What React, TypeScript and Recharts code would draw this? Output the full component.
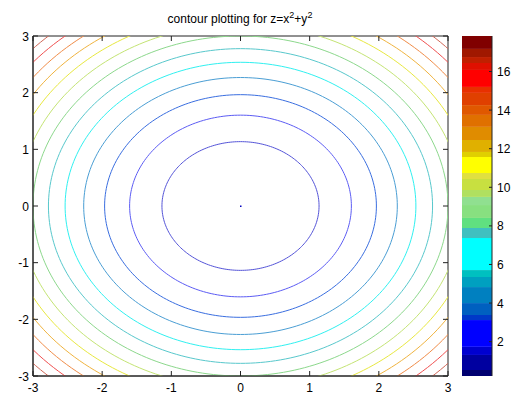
import { ComposedChart, Line, Scatter, XAxis, YAxis, ReferenceArea } from "recharts"

// contour plot of z = x^2 + y^2, levels and colours
const xTicks = [-3, -2, -1, 0, 1, 2, 3]
const yTicks = [-3, -2, -1, 0, 1, 2, 3]
const contourLevels = [1.29, 2.57, 3.86, 5.14, 6.43, 7.71, 9.0, 10.29, 11.57, 12.86, 14.14, 15.43, 16.71]
const contourColors = [
  "#5454d8", "#5c5cf4", "#3a6ee0", "#4a9ed4", "#30f0f0", "#58c8cc", "#8cd88c",
  "#c4e474", "#e8e840", "#f0b440", "#f08c48", "#f05050", "#d06858",
]
const centerPoint = [{ x: 0, y: 0 }]

// colorbar
const colorbarTicks = [2, 4, 6, 8, 10, 12, 14, 16]
const bandEdges = [
  0.22, 0.53, 1.31, 1.73, 3.12, 3.38, 4.0, 4.83, 5.35, 5.71, 7.37, 7.89, 8.41, 9.08, 9.5, 9.86,
  10.43, 10.74, 11.57, 11.83, 12.45, 13.13, 13.75, 14.26, 14.89, 15.2, 16.08, 16.44, 16.75, 17.17, 17.84,
]
const bandColors = [
  "#000070", "#0000a0", "#0000d0", "#0000ff", "#0038c8", "#0060c0", "#0080c0", "#00a0c0", "#00c0c0",
  "#00ffff", "#40c0c0", "#60e080", "#88e080", "#90e090", "#b0e060", "#c8e040", "#e0e040", "#ffff00",
  "#e0d000", "#e0b000", "#e08c00", "#e07000", "#e05800", "#e04000", "#e83000", "#ff0000", "#e01000",
  "#c02000", "#a01800", "#800000",
]
const barAnchor = [{ x: 0.5, v: 9 }]

const font = "'Liberation Sans', Arial, sans-serif"
const axisColor = "#222"
// plot box of the main axes, in pixels
const PLOT_TOP = 36
const PLOT_LEFT = 33
const PLOT_RIGHT = 448

// points along the level curve x^2 + y^2 = level
function levelCurve(level: number) {
  const r = Math.sqrt(level)
  const pts = []
  for (let i = 0; i <= 240; i++) {
    const t = (i / 240) * Math.PI * 2
    pts.push({ x: r * Math.cos(t), y: r * Math.sin(t) })
  }
  return pts
}

// bottom tick also draws the matching inward tick on the top edge
const BottomTick = ({ x, y, payload }: any) => (
  <g>
    <line x1={x} x2={x} y1={y} y2={y - 5} stroke={axisColor} />
    <line x1={x} x2={x} y1={PLOT_TOP} y2={PLOT_TOP + 5} stroke={axisColor} />
    <text x={x} y={y + 16} textAnchor="middle" fontSize={12} fontFamily={font} fill="#000">
      {payload.value}
    </text>
  </g>
)

// left tick also draws the matching inward tick on the right edge
const LeftTick = ({ x, y, payload }: any) => (
  <g>
    <line x1={x} x2={x + 5} y1={y} y2={y} stroke={axisColor} />
    <line x1={PLOT_RIGHT} x2={PLOT_RIGHT - 5} y1={y} y2={y} stroke={axisColor} />
    <text x={x - 4} y={y + 4.5} textAnchor="end" fontSize={12} fontFamily={font} fill="#000">
      {payload.value}
    </text>
  </g>
)

const BarRightTick = ({ x, y, payload }: any) => (
  <g>
    <line x1={x} x2={x - 3} y1={y} y2={y} stroke={axisColor} />
    <text x={x + 5} y={y + 4.5} textAnchor="start" fontSize={12} fontFamily={font} fill="#000">
      {payload.value}
    </text>
  </g>
)

const BarLeftTick = ({ x, y }: any) => <line x1={x} x2={x + 3} y1={y} y2={y} stroke={axisColor} />

const hidden = () => null

export default function App() {
  return (
    <div style={{ position: "absolute", left: 0, top: 0, width: 516, height: 402, background: "#fff" }}>
      <div
        style={{
          position: "absolute",
          left: 40,
          width: 400,
          top: 11,
          textAlign: "center",
          fontFamily: font,
          fontSize: 12,
          lineHeight: "16px",
          color: "#000",
        }}
      >
        contour plotting for z=x<sup style={{ fontSize: 9, lineHeight: 0 }}>2</sup>+y
        <sup style={{ fontSize: 9, lineHeight: 0 }}>2</sup>
      </div>

      <div style={{ position: "absolute", left: 0, top: 0 }}>
        <ComposedChart
          width={PLOT_RIGHT + 12}
          height={402}
          margin={{ top: PLOT_TOP, right: 12, bottom: 6, left: 0 }}
        >
          <XAxis
            type="number"
            dataKey="x"
            domain={[-3, 3]}
            ticks={xTicks}
            allowDataOverflow
            height={20}
            tickSize={0}
            tickMargin={0}
            tickLine={false}
            axisLine={{ stroke: axisColor }}
            tick={<BottomTick />}
            interval={0}
          />
          <YAxis
            type="number"
            dataKey="y"
            domain={[-3, 3]}
            ticks={yTicks}
            allowDataOverflow
            width={PLOT_LEFT}
            tickSize={0}
            tickMargin={0}
            tickLine={false}
            axisLine={{ stroke: axisColor }}
            tick={<LeftTick />}
            interval={0}
          />
          {contourLevels.map((lv, i) => (
            <Line
              key={lv}
              data={levelCurve(lv)}
              dataKey="y"
              type="linear"
              stroke={contourColors[i]}
              strokeWidth={1}
              dot={false}
              activeDot={false}
              isAnimationActive={false}
            />
          ))}
          <Scatter
            data={centerPoint}
            dataKey="y"
            fill="#0000c0"
            shape={(p: any) => <rect x={p.cx - 0.5} y={p.cy - 0.5} width={1.5} height={1.5} fill="#0000c0" />}
            isAnimationActive={false}
          />
          {/* box around the axes */}
          <ReferenceArea
            x1={-3}
            x2={3}
            y1={-3}
            y2={3}
            fill="none"
            stroke={axisColor}
            strokeWidth={1}
            ifOverflow="visible"
          />
        </ComposedChart>
      </div>

      <div style={{ position: "absolute", left: 461, top: 0 }}>
        <ComposedChart width={55} height={402} margin={{ top: 36, right: 0, bottom: 26, left: 1 }}>
          <XAxis dataKey="x" type="number" domain={[0, 1]} hide />
          <XAxis
            xAxisId="t"
            dataKey="x"
            orientation="top"
            type="number"
            domain={[0, 1]}
            height={0}
            tick={false}
            tickLine={false}
            axisLine={{ stroke: axisColor }}
          />
          <XAxis
            xAxisId="b"
            dataKey="x"
            orientation="bottom"
            type="number"
            domain={[0, 1]}
            height={0}
            tick={false}
            tickLine={false}
            axisLine={{ stroke: axisColor }}
          />
          <YAxis
            yAxisId="r"
            dataKey="v"
            orientation="right"
            type="number"
            domain={[0.22, 17.84]}
            ticks={colorbarTicks}
            allowDataOverflow
            width={24}
            tickSize={0}
            tickMargin={0}
            tickLine={false}
            axisLine={{ stroke: axisColor }}
            tick={<BarRightTick />}
            interval={0}
          />
          <YAxis
            yAxisId="l"
            dataKey="v"
            orientation="left"
            type="number"
            domain={[0.22, 17.84]}
            ticks={colorbarTicks}
            allowDataOverflow
            width={0}
            tickSize={0}
            tickMargin={0}
            tickLine={false}
            axisLine={{ stroke: axisColor }}
            tick={<BarLeftTick />}
            interval={0}
          />
          {bandColors.map((c, i) => (
            <ReferenceArea
              key={i}
              yAxisId="r"
              x1={0}
              x2={1}
              y1={bandEdges[i]}
              y2={bandEdges[i + 1]}
              fill={c}
              fillOpacity={1}
              stroke="none"
              ifOverflow="visible"
            />
          ))}
          <Scatter yAxisId="r" data={barAnchor} dataKey="v" shape={hidden} isAnimationActive={false} />
          <Scatter xAxisId="t" yAxisId="l" data={barAnchor} dataKey="v" shape={hidden} isAnimationActive={false} />
          <Scatter xAxisId="b" yAxisId="l" data={barAnchor} dataKey="v" shape={hidden} isAnimationActive={false} />
        </ComposedChart>
      </div>
    </div>
  )
}
